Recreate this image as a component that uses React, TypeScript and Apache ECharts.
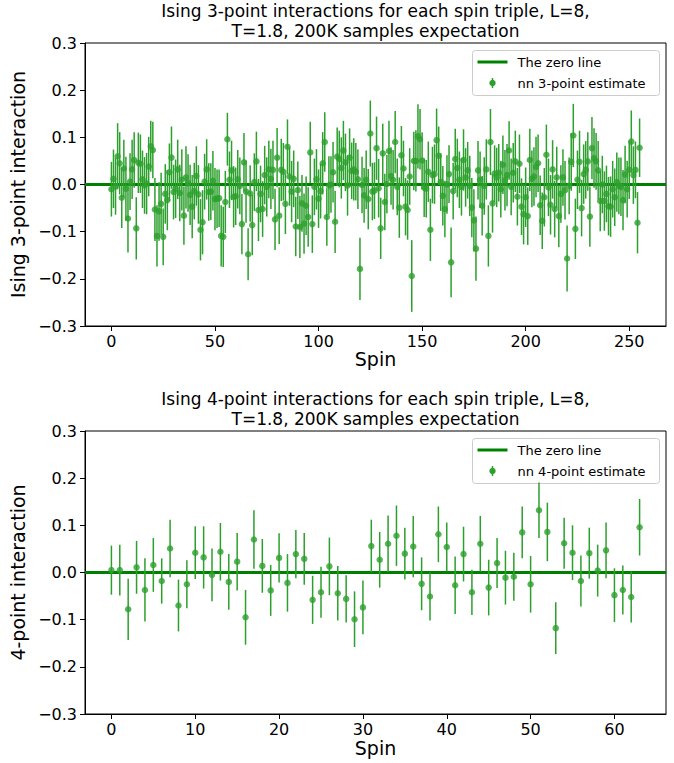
import React, { useEffect, useRef } from "react";
import * as echarts from "echarts";

// ---- data ----
const TITLE3 = "Ising 3-point interactions for each spin triple, L=8,\nT=1.8, 200K samples expectation";
const TITLE4 = "Ising 4-point interactions for each spin triple, L=8,\nT=1.8, 200K samples expectation";
const YNAME3 = "Ising 3-point interaction";
const YNAME4 = "4-point interaction";
const XNAME = "Spin";
const LEGEND_LINE = "The zero line";
const LEGEND3 = "nn 3-point estimate";
const LEGEND4 = "nn 4-point estimate";

const X3_TICKS = [0, 50, 100, 150, 200, 250];
const X4_TICKS = [0, 10, 20, 30, 40, 50, 60];
const Y_TICKS = [-0.3, -0.2, -0.1, 0, 0.1, 0.2, 0.3];

const V3 = [
  -0.010, 0.012, -0.004, 0.060, 0.045, -0.028, 0.034, -0.009, -0.072, 0.006, 0.032, 0.052, -0.093, 0.046, 0.044, 0.011,
  -0.002, 0.002, 0.038, 0.081, 0.073, -0.053, -0.109, -0.057, -0.041, -0.111, -0.020, -0.033, 0.026, 0.057, -0.016, -0.009,
  0.032, -0.018, 0.010, -0.066, 0.015, 0.003, -0.022, -0.047, -0.014, 0.018, -0.021, -0.096, -0.080, 0.006, 0.032, -0.016,
  -0.015, 0.008, -0.031, -0.030, -0.029, -0.109, -0.111, -0.037, 0.096, 0.010, 0.030, -0.026, -0.025, 0.011, -0.003, -0.084,
  0.047, -0.015, -0.148, -0.019, -0.086, 0.005, 0.049, -0.054, -0.020, -0.052, 0.020, -0.005, 0.032, 0.012, 0.031, -0.074,
  0.057, -0.066, 0.031, 0.027, -0.041, 0.080, 0.017, -0.015, 0.012, -0.089, -0.012, -0.090, -0.040, -0.083, -0.045, -0.069,
  0.068, -0.084, -0.005, 0.011, -0.030, -0.014, 0.045, 0.090, -0.069, -0.002, 0.000, 0.026, -0.079, 0.059, 0.054, 0.035,
  0.072, 0.047, -0.002, 0.057, 0.029, 0.032, 0.027, 0.011, -0.179, -0.001, -0.023, 0.010, -0.031, 0.108, -0.015, -0.013,
  0.077, -0.008, -0.093, 0.066, -0.037, 0.001, 0.071, 0.018, 0.010, 0.090, -0.005, -0.049, 0.062, 0.034, -0.047, -0.054,
  0.017, -0.194, 0.050, 0.050, 0.102, 0.096, 0.051, -0.007, -0.009, 0.027, -0.096, 0.020, 0.022, 0.094, 0.061, 0.005,
  -0.024, -0.052, 0.000, 0.022, -0.165, -0.014, 0.054, 0.035, 0.010, -0.005, 0.052, 0.015, 0.030, -0.003, -0.049, -0.076,
  -0.136, 0.030, 0.010, -0.045, -0.003, 0.032, -0.109, 0.090, -0.040, 0.023, 0.015, 0.025, -0.010, 0.042, 0.009, 0.020,
  0.072, -0.005, 0.025, 0.049, -0.026, 0.044, -0.047, -0.063, -0.027, -0.067, 0.052, 0.012, 0.017, 0.037, 0.045, -0.044,
  -0.077, -0.027, 0.063, -0.006, -0.043, 0.032, -0.052, 0.015, -0.067, -0.020, 0.015, -0.012, -0.157, -0.003, 0.048, 0.104,
  -0.094, 0.010, 0.048, -0.050, 0.022, 0.031, 0.049, -0.068, 0.077, 0.056, 0.049, 0.030, -0.035, 0.000, -0.035, -0.020,
  -0.046, -0.047, -0.010, -0.027, 0.005, -0.003, -0.005, -0.033, 0.021, -0.010, 0.031, 0.091, 0.020, 0.031, -0.081, 0.078,
];

const E3 = [
  0.058, 0.062, 0.060, 0.070, 0.066, 0.064, 0.061, 0.068, 0.072, 0.060, 0.063, 0.059, 0.066, 0.064, 0.062, 0.061,
  0.060, 0.065, 0.063, 0.054, 0.060, 0.067, 0.065, 0.062, 0.066, 0.060, 0.063, 0.064, 0.061, 0.066, 0.058, 0.062,
  0.063, 0.060, 0.065, 0.062, 0.066, 0.061, 0.064, 0.067, 0.060, 0.063, 0.062, 0.065, 0.068, 0.059, 0.064, 0.061,
  0.060, 0.063, 0.066, 0.062, 0.061, 0.065, 0.064, 0.066, 0.056, 0.060, 0.063, 0.065, 0.061, 0.062, 0.060, 0.064,
  0.062, 0.066, 0.055, 0.060, 0.064, 0.061, 0.063, 0.066, 0.060, 0.059, 0.062, 0.063, 0.061, 0.064, 0.062, 0.065,
  0.063, 0.060, 0.066, 0.061, 0.064, 0.058, 0.062, 0.065, 0.060, 0.063, 0.061, 0.066, 0.060, 0.064, 0.062, 0.063,
  0.065, 0.061, 0.060, 0.064, 0.062, 0.058, 0.066, 0.063, 0.061, 0.062, 0.060, 0.064, 0.066, 0.062, 0.060, 0.065,
  0.063, 0.061, 0.064, 0.062, 0.060, 0.066, 0.061, 0.063, 0.066, 0.060, 0.058, 0.062, 0.064, 0.070, 0.061, 0.060,
  0.067, 0.062, 0.065, 0.063, 0.060, 0.062, 0.064, 0.061, 0.063, 0.066, 0.060, 0.064, 0.062, 0.059, 0.061, 0.063,
  0.060, 0.076, 0.062, 0.065, 0.068, 0.064, 0.060, 0.062, 0.061, 0.064, 0.066, 0.060, 0.063, 0.067, 0.062, 0.061,
  0.063, 0.060, 0.062, 0.061, 0.074, 0.060, 0.064, 0.062, 0.060, 0.061, 0.065, 0.062, 0.060, 0.064, 0.063, 0.066,
  0.068, 0.062, 0.060, 0.063, 0.061, 0.064, 0.065, 0.070, 0.062, 0.060, 0.063, 0.061, 0.060, 0.062, 0.064, 0.066,
  0.062, 0.060, 0.063, 0.065, 0.061, 0.062, 0.060, 0.064, 0.063, 0.061, 0.066, 0.060, 0.062, 0.064, 0.061, 0.063,
  0.060, 0.062, 0.064, 0.061, 0.063, 0.062, 0.060, 0.065, 0.066, 0.061, 0.060, 0.062, 0.070, 0.060, 0.061, 0.067,
  0.064, 0.062, 0.066, 0.060, 0.063, 0.061, 0.062, 0.064, 0.066, 0.063, 0.060, 0.062, 0.064, 0.061, 0.063, 0.060,
  0.062, 0.064, 0.060, 0.061, 0.063, 0.060, 0.062, 0.064, 0.061, 0.060, 0.062, 0.066, 0.061, 0.060, 0.065, 0.062,
];

const V4 = [
  0.005, 0.005, -0.078, 0.011, -0.037, 0.016, -0.018, 0.051, -0.070, -0.025, 0.042, 0.032, -0.005, 0.044, -0.020, 0.023,
  -0.095, 0.070, 0.014, -0.038, 0.031, -0.022, 0.039, 0.029, -0.058, -0.042, 0.013, -0.044, -0.056, -0.099, -0.074, 0.056,
  0.027, 0.061, 0.078, 0.040, 0.055, -0.024, -0.051, 0.081, 0.054, -0.027, 0.039, -0.042, 0.061, -0.032, 0.020, -0.011,
  -0.009, 0.085, -0.025, 0.132, 0.086, -0.118, 0.062, 0.042, -0.018, 0.041, 0.004, 0.047, -0.048, -0.037, -0.052, 0.096,
];

const E4 = [
  0.052, 0.054, 0.065, 0.056, 0.067, 0.057, 0.048, 0.061, 0.055, 0.051, 0.056, 0.066, 0.056, 0.061, 0.059, 0.061,
  0.058, 0.062, 0.057, 0.054, 0.052, 0.061, 0.051, 0.055, 0.051, 0.054, 0.061, 0.058, 0.050, 0.059, 0.057, 0.056,
  0.059, 0.060, 0.064, 0.055, 0.065, 0.056, 0.051, 0.059, 0.052, 0.061, 0.058, 0.048, 0.059, 0.059, 0.053, 0.057,
  0.051, 0.055, 0.060, 0.059, 0.062, 0.055, 0.054, 0.058, 0.054, 0.054, 0.055, 0.059, 0.057, 0.052, 0.054, 0.060,
];

// ---- styles ----
const FONT = "DejaVu Sans";
const PT_COLOR = "#2ca02c";
const ZERO_COLOR = "#008000";

const fmtY = (v: number) => {
  if (Math.abs(v) < 1e-9) return "0.0";
  return v.toFixed(1).replace("-", "\u2212");
};

function axisPair(gridIndex: number, xmin: number, xmax: number, xticks: number[], yname: string, xGap: number) {
  const x = {
    type: "value",
    gridIndex,
    min: xmin,
    max: xmax,
    name: XNAME,
    nameLocation: "middle",
    nameGap: xGap,
    nameTextStyle: { fontFamily: FONT, fontSize: 19, color: "#000" },
    axisLine: { show: true, onZero: false, lineStyle: { color: "#000", width: 1 } },
    axisTick: { show: true, length: 5, customValues: xticks, lineStyle: { color: "#000" } },
    axisLabel: { show: true, customValues: xticks, margin: 7, fontFamily: FONT, fontSize: 16, color: "#000" },
    splitLine: { show: false },
  };
  const y = {
    type: "value",
    gridIndex,
    min: -0.3,
    max: 0.3,
    name: yname,
    nameLocation: "middle",
    nameGap: 50,
    nameTextStyle: { fontFamily: FONT, fontSize: 19, color: "#000" },
    axisLine: { show: true, onZero: false, lineStyle: { color: "#000", width: 1 } },
    axisTick: { show: true, length: 5, customValues: Y_TICKS, lineStyle: { color: "#000" } },
    axisLabel: { show: true, customValues: Y_TICKS, margin: 8, fontFamily: FONT, fontSize: 16, color: "#000", formatter: fmtY },
    splitLine: { show: false },
  };
  return { x, y };
}

function seriesFor(idx: number, V: number[], E: number[], xmin: number, xmax: number) {
  const pts = V.map((v, i) => [i, v, E[i]]);
  return [
    {
      type: "line",
      xAxisIndex: idx,
      yAxisIndex: idx,
      data: [[xmin, 0], [xmax, 0]],
      symbol: "none",
      lineStyle: { color: ZERO_COLOR, width: 3 },
      z: 2,
      silent: true,
    },
    {
      type: "custom",
      xAxisIndex: idx,
      yAxisIndex: idx,
      data: pts,
      encode: { x: 0, y: 1 },
      z: 3,
      renderItem: (_p: any, api: any) => {
        const x = api.value(0);
        const y = api.value(1);
        const e = api.value(2);
        const a = api.coord([x, y - e]);
        const b = api.coord([x, y + e]);
        return {
          type: "line",
          shape: { x1: a[0], y1: a[1], x2: b[0], y2: b[1] },
          style: { stroke: PT_COLOR, lineWidth: 1.5 },
        };
      },
    },
    {
      type: "scatter",
      xAxisIndex: idx,
      yAxisIndex: idx,
      data: pts.map((p) => [p[0], p[1]]),
      symbol: "circle",
      symbolSize: 6.5,
      itemStyle: { color: PT_COLOR },
      z: 4,
    },
  ];
}

function legendGraphic(top: number, label: string) {
  const left = 472;
  return {
    type: "group",
    left,
    top,
    children: [
      { type: "rect", shape: { x: 0, y: 0, width: 187, height: 45, r: 3 }, style: { fill: "rgba(255,255,255,0.8)", stroke: "#cccccc", lineWidth: 1 } },
      { type: "line", shape: { x1: 5, y1: 11.5, x2: 35, y2: 11.5 }, style: { stroke: ZERO_COLOR, lineWidth: 3 } },
      { type: "text", x: 45, y: 11.5, style: { text: LEGEND_LINE, fontFamily: FONT, fontSize: 13, fill: "#000", verticalAlign: "middle" } },
      { type: "line", shape: { x1: 20, y1: 27.5, x2: 20, y2: 37.5 }, style: { stroke: PT_COLOR, lineWidth: 1.5 } },
      { type: "circle", shape: { cx: 20, cy: 32.5, r: 3.2 }, style: { fill: PT_COLOR } },
      { type: "text", x: 45, y: 32.5, style: { text: label, fontFamily: FONT, fontSize: 13, fill: "#000", verticalAlign: "middle" } },
    ],
  };
}

export default function App() {
  const ref = useRef<HTMLDivElement>(null);
  useEffect(() => {
    if (!ref.current) return;
    const chart = echarts.init(ref.current, undefined, { renderer: "svg" });
    const X3MIN = -12.75, X3MAX = 267.75;
    const X4MIN = -3.15, X4MAX = 66.15;
    const a0 = axisPair(0, X3MIN, X3MAX, X3_TICKS, YNAME3, 22);
    const a1 = axisPair(1, X4MIN, X4MAX, X4_TICKS, YNAME4, 24);
    chart.setOption({
      animation: false,
      backgroundColor: "#fff",
      textStyle: { fontFamily: FONT },
      title: [
        { text: TITLE3, left: 375.5, top: 1, textAlign: "center", padding: 0, textStyle: { fontFamily: FONT, fontSize: 17, fontWeight: "normal", color: "#000", lineHeight: 20 } },
        { text: TITLE4, left: 375.5, top: 389, textAlign: "center", padding: 0, textStyle: { fontFamily: FONT, fontSize: 17, fontWeight: "normal", color: "#000", lineHeight: 20 } },
      ],
      grid: [
        { left: 85, right: 8, top: 43, height: 283, show: true, borderColor: "#000", borderWidth: 1, backgroundColor: "transparent" },
        { left: 85, right: 8, top: 431, height: 283, show: true, borderColor: "#000", borderWidth: 1, backgroundColor: "transparent" },
      ],
      xAxis: [a0.x, a1.x],
      yAxis: [a0.y, a1.y],
      series: [...seriesFor(0, V3, E3, X3MIN, X3MAX), ...seriesFor(1, V4, E4, X4MIN, X4MAX)],
      graphic: [legendGraphic(50, LEGEND3), legendGraphic(438, LEGEND4)],
    });
    return () => chart.dispose();
  }, []);
  return <div ref={ref} style={{ position: "fixed", left: 0, top: 0, width: 674, height: 763 }} />;
}
